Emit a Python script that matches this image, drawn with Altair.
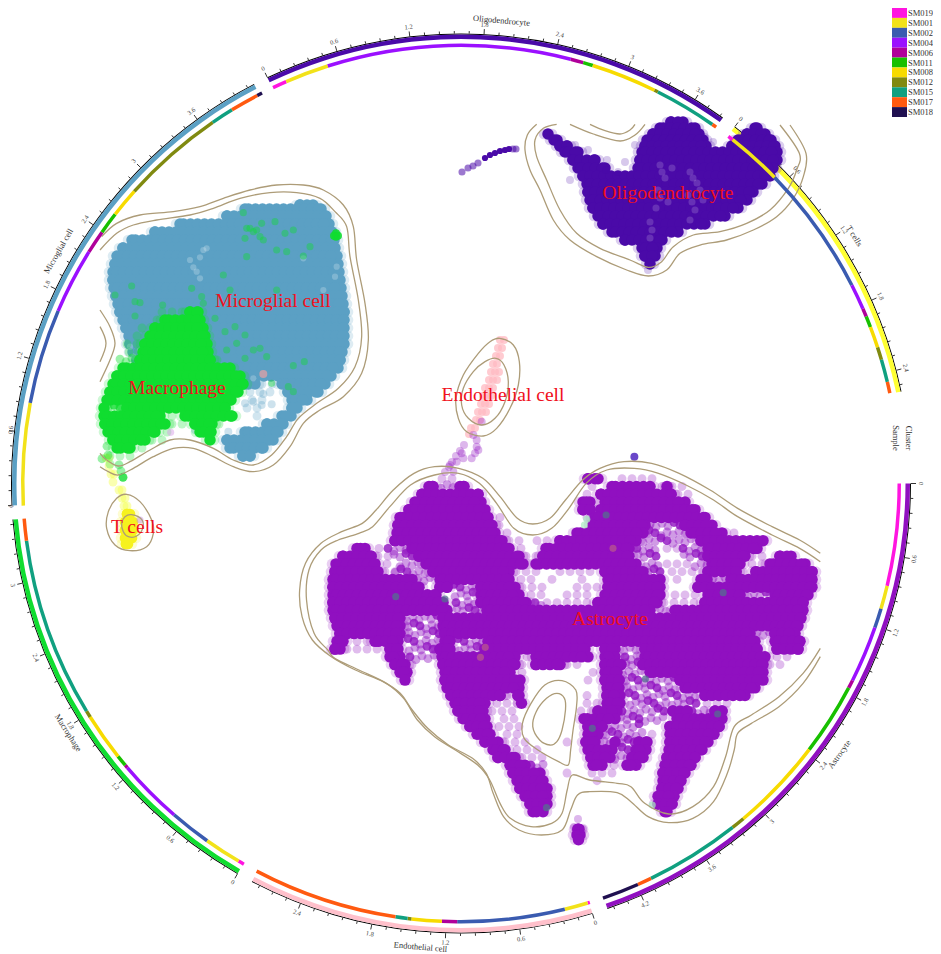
import math
import altair as alt
import numpy as np
import pandas as pd

alt.data_transformers.disable_max_rows()

FONT = "Liberation Serif"
CX, CY = 461, 483.5

SAMPLES = ["SM019", "SM001", "SM002", "SM004", "SM006", "SM011", "SM008", "SM012", "SM015", "SM017", "SM018"]
SAMPLE_COLORS = ["#FF14E0", "#F2E21A", "#3A5BB0", "#9B10FF", "#B0009A", "#18C000", "#F7DB00", "#808A10", "#10A080", "#FF5A10", "#201050"]
COLOR = dict(zip(SAMPLES, SAMPLE_COLORS))

CLUSTERS = ["Oligodendrocyte", "T cells", "Astrocyte", "Endothelial cell", "Macrophage", "Microglial cell"]
CLUSTER_COLORS = ["#4A0AA8", "#FFFF33", "#9010C0", "#FFC0CB", "#10DD30", "#5BA0C4"]
CLUSTER_START = [-25.5, 37.5, 90, 163, 209.8, 267.2]
CLUSTER_END = [35.6, 78.2, 161, 207.7, 265.4, 332.6]
CLUSTER_NAME_ANGLE = [5, 57.8, 125.6, 185, 237.6, 300]
CLUSTER_LABELS = [(668, 193), (137, 527), (610, 619), (503, 395), (177, 388), (273, 301)]
MAJOR_TICKS = ["0", "0.6", "1.2", "1.8", "2.4", "3", "3.6", "4.2"]
DEG_PER_UNIT = 15.8

OLIGO_SAMPLES = ["SM019", "SM001", "SM004", "SM006", "SM011", "SM008", "SM012", "SM015", "SM017"]
OLIGO_EDGES = [-25.4, -23.5, -17.7, 14.5, 16.2, 17.5, 26.2, 26.7, 35.0, 35.6]
T_SAMPLES = ["SM019", "SM001", "SM002", "SM004", "SM006", "SM011", "SM008", "SM012", "SM015", "SM017"]
T_EDGES = [37.6, 38.3, 45.7, 63.1, 66.5, 67.6, 69.1, 71.9, 73.6, 76.6, 78.1]
ASTRO_SAMPLES = SAMPLES
ASTRO_EDGES = [90, 103.5, 106.6, 109.2, 116.7, 117.8, 127.4, 139.9, 141.7, 154.3, 156.2, 161.1]
ENDO_SAMPLES = ["SM019", "SM001", "SM002", "SM006", "SM008", "SM012", "SM015", "SM017"]
ENDO_EDGES = [162.9, 163.2, 166.3, 180.5, 182.5, 186.5, 187, 188.6, 207.8]
MACRO_SAMPLES = ["SM019", "SM001", "SM002", "SM004", "SM006", "SM011", "SM008", "SM012", "SM015", "SM017"]
MACRO_EDGES = [209.7, 210.5, 215.4, 220.9, 229.6, 230, 231.5, 237.8, 238.7, 262.5, 265.4]
MICRO_SAMPLES = ["SM001", "SM002", "SM004", "SM006", "SM011", "SM008", "SM012", "SM015", "SM017", "SM018"]
MICRO_EDGES = [267.1, 280.6, 293.2, 301.9, 305, 307.9, 311.8, 325.5, 328.5, 332.3, 333]

# row : dense runs | mottled runs | scattered runs
ASTRO_ROWS = [
    "480: 583-603 | | 440-460 620-660", "488: 424-438 455-469 607-655 664-670 | 440-455 | 585-600 655-690",
    "496: 417-483 596-676 | | 585-591 676-690", "504: 410-486 578-595 600-690 | | ", "512: 404-490 578-595 596-700 | | ",
    "520: 395-493 590-710 | | 580-590 493-500", "528: 393-497 588-650 680-717 | 650-680 | 497-505",
    "536: 392-500 572-648 686-727 | 648-686 | 500-512 727-735", "544: 390-507 555-641 696-768 | 641-696 | 507-520 535-555",
    "552: 352-370 407-514 541-634 703-762 | 385-407 634-660 680-703 | 372-385 514-530 660-680",
    "560: 338-376 414-524 538-634 703-750 775-796 | 390-414 634-660 680-703 | 376-390 524-538 750-770",
    "568: 331-380 421-528 531-641 707-745 765-810 | 395-421 641-660 690-707 | 380-395 660-690 745-765",
    "576: 330-383 428-514 600-648 703-741 751-817 | 395-428 648-660 | 383-395 514-538 558-590 670-703 741-751",
    "584: 328-417 435-514 603-665 696-712 726-817 | 417-435 712-726 | 514-540 545-558 575-590 670-685",
    "592: 328-424 435-452 476-520 603-665 693-817 | 452-476 | 520-545 575-597",
    "600: 328-441 476-524 600-665 703-745 770-813 | 452-476 745-770 | 524-545 560-593 668-703",
    "608: 328-448 476-531 593-662 700-808 | 452-476 531-545 | 545-593 662-700",
    "616: 328-452 482-655 670-808 | 452-482 655-670 | ", "624: 330-405 438-806 | 407-438 | ", "632: 332-405 438-803 | 407-438 | ",
    "640: 335-405 440-755 770-800 | 407-440 755-770 | ", "648: 332-348 370-403 440-455 483-760 770-805 | 405-440 455-483 | 350-370",
    "656: 330-345 385-403 435-455 480-590 600-620 640-762 772-803 | 405-435 455-480 620-640 | 345-385",
    "664: 385-405 437-520 531-593 600-620 640-770 | 405-435 620-640 | 520-531 770-790",
    "672: 390-410 438-520 531-565 600-626 638-768 | 626-638 | 410-415 520-531 565-585 768-780",
    "680: 395-412 440-515 600-622 645-768 | 622-645 | 515-528 586-600",
    "688: 400-410 440-525 600-624 675-768 | 624-675 | 586-593", "696: 442-524 602-624 680-760 | 624-680 | 586-590",
    "704: 446-505 513-524 602-625 700-750 | 625-700 | 505-513 585-593",
    "712: 450-490 517-526 602-625 | 625-700 | 490-517 580-600 700-730",
    "720: 453-488 593-622 668-692 710-727 | 622-668 692-710 | 490-517 579-593",
    "728: 458-490 579-620 672-727 | 620-665 | 497-520", "736: 465-492 583-607 665-724 | 607-640 | 497-528",
    "744: 472-495 583-603 665-719 | 603-645 | 500-525 645-655", "752: 480-503 581-600 610-620 634-652 665-713 | 600-634 | 503-530 565-570",
    "760: 488-510 583-617 631-651 664-707 | 617-631 | 510-538", "768: 493-520 586-615 627-648 662-700 | 615-627 | 520-545",
    "776: 505-530 588-607 622-641 660-696 | 530-545 | 607-622", "784: 508-545 658-690 | | 565-576 590-620",
    "792: 512-548 658-686 | | 565-570 590-600", "800: 515-552 657-683 | | ", "808: 520-552 653-679 | | ", "816: 525-552 653-677 | | ",
    "824: 528-548 660-672 | | ", "842: 573-584 | | ", "848: 572-585 | | ", "853: 574-583 | | ",
]
ASTRO_THIN_PTS = [(578, 819), (583, 829), (574, 827), (464, 445), (460, 451), (456, 456), (452, 462), (449, 467), (445, 472)]
GREY_PTS = [(307, 470), (450, 477), (918, 225), (1258, 458), (1032, 717), (878, 865), (1242, 822), (745, 1103)]
ROSE_PTS = [(938, 325), (567, 622), (553, 652)]
MINT_PTS = [(855, 255), (1052, 1095), (862, 238)]

MICRO_ROWS = [
    "205: 295-318 | | ", "209: 240-326 | | ", "216: 222-331 | | ", "224: 175-334 | | ", "232: 150-337 | | ", "240: 127-339 | | ", "248: 118-340 | | ",
    "256: 112-342 | | ", "264: 110-343 | | ", "272: 108-344 | | ", "280: 108-345 | | ", "288: 109-346 | | ", "296: 111-347 | | ", "304: 113-348 | | ",
    "312: 115-349 | | ", "320: 118-349 | | ", "328: 121-349 | | ", "336: 124-349 | | ", "344: 125-349 | | ", "352: 128-347 | | ", "360: 132-345 | | ",
    "368: 135-343 | | ", "376: 140-336 | | ", "384: 277-330 240-260 | | 255-277", "392: 283-323 | | 248-275", "400: 287-312 | | 245-270",
    "408: 287-302 | | 245-265", "416: 277-296 | | 250-262", "424: 262-288 | | ", "432: 240-283 | | ", "440: 222-278 | | ", "448: 225-268 | | ", "456: 238-255 | | ",
]
MICRO_WHITE_SPOTS = [(350, 235), (330, 262), (300, 270), (310, 292), (330, 325), (640, 265), (700, 360), (740, 290), (735, 320),
                     (120, 530), (150, 540), (130, 560), (70, 700), (100, 690), (240, 745), (265, 740), (490, 625), (340, 240), (320, 305)]
MACRO_ROWS = [
    "312: 185-203 | | 160-185", "320: 160-205 | | 150-160", "328: 150-208 | | 140-150", "336: 145-210 | | 130-145", "344: 140-212 | | 125-140",
    "352: 138-213 | | 122-138", "360: 135-215 | 120-135 | 215-225", "368: 118-235 | | ", "376: 112-245 | | ", "384: 108-248 | | ", "392: 105-243 | | ",
    "400: 102-236 | | ", "408: 100-108 122-230 | 108-122 | ", "416: 99-165 180-237 | | 165-180", "424: 100-170 190-217 | | 170-190 217-228",
    "432: 103-160 195-216 | | 160-170", "440: 108-150 205-215 | | 150-165", "448: 112-135 | 102-107 | 135-145 107-112",
    "456: | 102-108 | 108-135", "464: | 118-124 | 103-112", "472: | 119-125 | ", "480: | 120-125 | ",
]
MACRO_SPOTS = [(460, 128), (470, 175), (490, 185), (520, 210), (555, 155), (515, 160), (610, 180), (585, 190), (465, 205), (660, 230), (560, 240),
               (590, 245), (640, 258), (470, 260), (400, 315), (125, 348), (75, 375), (135, 395), (150, 398), (218, 405), (135, 438), (305, 355),
               (335, 380), (420, 360), (560, 360), (340, 400), (375, 445), (435, 470), (405, 485), (465, 495), (440, 520), (410, 540), (465, 565),
               (490, 540), (530, 560), (510, 535), (610, 587), (643, 575), (545, 640), (595, 650), (610, 665), (500, 180), (510, 200), (480, 175)]
MACRO_BLOB = [(738, 190), (738, 200), (732, 197), (744, 197)]
MICRO_STRAYS = [(315, 780), (415, 785), (465, 700), (490, 695), (520, 672), (515, 705), (545, 703)]

TCELL_ROWS_THIN = ["458: 103-112", "466: 106-114", "474: 108-117", "482: 110-118", "490: 116-125", "498: 119-128", "506: 121-132"]
TCELL_ROWS = ["514: 122-135 | | ", "522: 120-138 | | ", "530: 120-138 | | ", "538: 120-137 | | ", "544: 121-133 | | "]

OLIGO_ROWS = [
    "122: 666-688 | | ", "128: 655-700 750-762 | | ", "134: 543-553 648-704 742-770 | | ", "140: 549-562 642-708 733-776 | | ", "146: 555-572 640-711 727-780 | | ", "152: 560-583 637-782 | | ",
    "160: 568-600 635-782 | | ", "168: 573-610 633-778 | | ", "176: 578-775 | | ", "184: 582-767 | | ", "192: 583-758 | | ", "200: 585-752 | | ",
    "208: 588-743 | | ", "216: 593-730 | | ", "224: 598-710 | | ", "232: 607-683 | | ", "240: 620-667 | | ", "248: 637-662 | | ", "256: 640-660 | | ", "264: 645-655 | | ",
]
OLIGO_WHITE_SPOTS = [(660, 165), (665, 178), (658, 190), (668, 202), (656, 208), (690, 172), (697, 183), (688, 195), (695, 210), (690, 220),
                     (652, 230), (650, 238), (703, 200), (672, 168), (662, 172), (693, 178), (692, 202), (660, 198), (650, 222), (700, 190)]
OLIGO_THIN_PTS = [(635, 145), (607, 160), (625, 162), (588, 150), (575, 145), (713, 142), (705, 137), (648, 270), (570, 180), (606, 170), (618, 172)]
OLIGO_TAIL_THIN = [(462, 172), (468, 168), (473, 166), (478, 163), (513, 149), (516, 149)]
OLIGO_TAIL = [(485, 158), (490, 155), (495, 153), (500, 151), (505, 150), (509, 149)]
ENDO_ROWS = ["340: 497-508", "348: 495-507", "356: 493-505", "364: 490-503", "372: 488-502", "380: 486-500", "388: 482-497", "396: 480-495",
             "404: 478-494", "412: 475-490", "420: 473-486", "428: 468-480", "434: 466-474", "443: 462-467"]
ENDO_PURPLE = [(155, 290), (130, 330), (140, 345), (140, 365), (135, 385), (95, 385), (100, 400), (125, 400), (80, 410), (60, 420), (70, 440), (145, 375)]

ASTRO_OUTER = [(1540, 340), (1480, 300), (1400, 260), (1300, 205), (1220, 150), (1130, 100), (1050, 70), (970, 65), (900, 85), (850, 120), (800, 180), (755, 235), (705, 252), (660, 235), (610, 170), (560, 115), (490, 85), (420, 80), (360, 100), (300, 150), (250, 210), (210, 250), (150, 275), (90, 310), (45, 370), (28, 450), (35, 530), (65, 600), (120, 650), (190, 690), (270, 725), (320, 760), (355, 810), (400, 865), (460, 915), (530, 955), (570, 1000), (590, 1060), (620, 1130), (665, 1170), (730, 1185), (790, 1170), (815, 1110), (835, 1065), (870, 1055), (950, 1058), (990, 1085), (1040, 1130), (1100, 1148), (1170, 1135), (1230, 1085), (1270, 1000), (1290, 930), (1300, 880), (1340, 850), (1420, 800), (1490, 730), (1540, 650)]
ASTRO_INNER = [(1540, 365), (1480, 325), (1400, 285), (1300, 230), (1230, 180), (1150, 135), (1070, 100), (1000, 85), (920, 90), (860, 130), (810, 205), (760, 265), (705, 285), (650, 265), (600, 190), (550, 130), (490, 100), (420, 105), (350, 135), (290, 200), (240, 260), (200, 280), (140, 300), (90, 330), (55, 390), (48, 480), (70, 580), (110, 630), (130, 655), (200, 690), (280, 730), (330, 775), (370, 840), (420, 890), (480, 930), (545, 975), (580, 1020), (610, 1090), (640, 1135), (700, 1160), (760, 1150), (790, 1120), (805, 1050), (820, 1005), (870, 1020), (950, 1030), (990, 1040), (1030, 1090), (1100, 1122), (1170, 1100), (1230, 1040), (1265, 950), (1290, 860), (1340, 825), (1420, 770), (1490, 700), (1540, 625)]
HOLE_OUTER = [(790, 722), (830, 750), (832, 800), (822, 870), (815, 930), (808, 975), (780, 965), (720, 930), (680, 895), (675, 850), (700, 790), (740, 735)]
HOLE_INNER = [(775, 760), (797, 775), (800, 810), (790, 870), (775, 905), (755, 915), (725, 900), (705, 860), (715, 815), (745, 775)]
OLIGO_OUTER = [(290, 43), (262, 75), (255, 120), (270, 180), (300, 240), (340, 330), (390, 390), (470, 440), (560, 480), (625, 498), (680, 480), (720, 430), (780, 405), (860, 390), (940, 360), (1010, 320), (1060, 265), (1090, 200), (1098, 130), (1050, 45)]
OLIGO_INNER = [(350, 43), (310, 55), (285, 90), (290, 140), (320, 210), (360, 300), (410, 370), (480, 415), (570, 450), (625, 472), (665, 455), (700, 410), (760, 375), (840, 365), (920, 340), (990, 300), (1045, 235), (1070, 180), (1078, 130), (1020, 45)]
OLIGO_DIP1 = [(450, 43), (495, 62), (540, 72), (570, 60), (585, 43)]
OLIGO_DIP2 = [(390, 43), (460, 72), (540, 93), (585, 75), (615, 43)]
MICRO_OUTER = [(35, 200), (80, 160), (150, 135), (250, 125), (330, 110), (400, 85), (480, 60), (560, 45), (640, 45), (700, 60), (760, 105), (790, 170), (800, 270), (825, 400), (835, 510), (815, 610), (760, 680), (690, 720), (640, 760), (600, 830), (550, 885), (490, 905), (430, 890), (370, 860), (310, 835), (250, 835), (190, 860), (130, 895), (85, 915), (55, 905), (30, 890)]
MICRO_INNER = [(30, 240), (80, 190), (130, 165), (200, 150), (300, 135), (370, 115), (450, 85), (540, 68), (620, 68), (690, 85), (735, 125), (770, 170), (780, 260), (805, 390), (815, 500), (795, 590), (745, 655), (680, 700), (625, 745), (590, 800), (545, 855), (490, 885), (430, 870), (370, 835), (300, 810), (240, 810), (180, 840), (120, 875), (85, 888), (50, 870), (30, 850)]
MICRO_CUT1 = [(30, 420), (60, 470), (75, 520), (60, 570), (30, 635)]
MICRO_CUT2 = [(30, 470), (48, 520), (30, 575)]
TCELL_OUTER = [(110, 973), (150, 995), (185, 1050), (190, 1090), (170, 1130), (120, 1142), (75, 1125), (50, 1075), (55, 1025), (80, 985)]
TCELL_INNER = [(125, 1034), (155, 1048), (158, 1075), (140, 1098), (115, 1100), (100, 1085), (95, 1060), (105, 1040)]
ENDO_OUTER = [(210, 40), (250, 60), (268, 110), (265, 180), (240, 250), (200, 310), (160, 333), (110, 320), (85, 280), (78, 220), (100, 150), (145, 85), (180, 50)]
ENDO_INNER = [(198, 100), (222, 120), (235, 170), (225, 230), (195, 280), (155, 300), (115, 280), (95, 240), (100, 190), (130, 140), (165, 110)]


def astro_xy(p):
    return 290 + p[0] / 2.904, 440 + p[1] / 3


def micro_xy(p):
    return 90 + p[0] / 3, 170 + p[1] / 3


def oligo_xy(p):
    return 440 + p[0] / 3, 110 + p[1] / 3


def endo_xy(p):
    return 430 + p[0] / 3, 325 + p[1] / 3


def runs(text):
    return [tuple(float(v) for v in r.split("-")) for r in text.split()]


points = []


def add(x, y, color, r, op):
    points.append({"x": x, "y": y, "c": color, "s": math.pi * r * r, "o": op})


def add_rows(rows, color, r=6.5, fixy=False):
    parsed = []
    for k, row in enumerate(rows):
        head, body = row.split(":")
        dense, medium, sparse = (body.split("|") + ["", ""])[:3]
        y = float(head)
        if fixy:
            y = 440 + (y - 440) * 0.968
        parsed.append((k, y, runs(dense), runs(medium), runs(sparse)))
    for k, y, dense, medium, sparse in parsed:
        for a, b in sparse:
            for x in np.arange(a + 2 + (k % 2) * 5, b + 0.1, 10):
                add(float(x), y, color, 5, 0.28)
        for a, b in medium:
            for i, x in enumerate(np.arange(a + (k * 7) % 6, b + 0.1, 6)):
                shade = (k * 5 + i * 3) % 7
                yy = y + (shade - 3) * 0.9
                add(float(x), yy, color, 5, 0.8 if shade in (0, 3) else 0.42)
        for a, b in dense:
            add(a + 1, y, color, 6, 0.2)
            add(b - 1, y, color, 6, 0.2)
    for k, y, dense, medium, sparse in parsed:
        for a, b in dense:
            if b - a <= 10:
                add((a + b) / 2, y, color, r, 1)
            else:
                add(a + 5, y, color, r, 1)
                add(b - 5, y, color, r, 1)
                for x in np.arange(a + 5 + (k % 2) * 3.5, b - 4.9, 7):
                    add(float(x), y, color, r, 1)


ASTRO_C, OLIGO_C, MICRO_C, MACRO_C, ENDO_C = "#9010C0", "#4A0AA8", "#5BA0C4", "#10DD30", "#FFB9C2"

add_rows(MICRO_ROWS, MICRO_C)
for p in MICRO_WHITE_SPOTS:
    add(*micro_xy(p), "#FFFFFF", 3.5, 0.22)
for p in MICRO_STRAYS:
    add(*micro_xy(p), MICRO_C, 4.5, 0.3)
for p in MACRO_SPOTS:
    add(*micro_xy(p), MACRO_C, 4, 0.4)
for p in MACRO_BLOB:
    add(*micro_xy(p), MACRO_C, 4.5, 0.9)
for row in TCELL_ROWS_THIN:
    head, body = row.split(":")
    for a, b in runs(body):
        for x in np.arange(a + 3, b - 2, 3):
            add(float(x), float(head), "#F4FF50", 5, 0.45)
add_rows(MACRO_ROWS, MACRO_C)
add(*micro_xy((520, 612)), "#D8A0A8", 4.5, 0.8)
add(*micro_xy((242, 787)), "#D8A0E8", 4, 0.5)
add_rows(TCELL_ROWS, "#F6F21E", r=6)
add(*micro_xy((150, 1050)), "#C890E8", 4, 0.5)
add_rows(OLIGO_ROWS, OLIGO_C)
for p in OLIGO_WHITE_SPOTS:
    add(p[0], p[1], "#FFFFFF", 4, 0.16)
for p in OLIGO_THIN_PTS:
    add(p[0], p[1], OLIGO_C, 4.5, 0.22)
for p in OLIGO_TAIL_THIN:
    add(p[0], p[1], OLIGO_C, 4, 0.55)
for p in OLIGO_TAIL:
    add(p[0], p[1], OLIGO_C, 3.5, 1)
for row in ENDO_ROWS:
    head, body = row.split(":")
    for a, b in runs(body):
        for x in np.arange(a + 3, b - 2, 4):
            add(float(x), float(head), ENDO_C, 4.5, 0.75)
for p in ENDO_PURPLE:
    add(*endo_xy(p), ASTRO_C, 4.5, 0.32)
add_rows(ASTRO_ROWS, ASTRO_C, fixy=True)
for p in ASTRO_THIN_PTS:
    add(p[0], p[1], ASTRO_C, 4.5, 0.3)
for p in GREY_PTS:
    add(*astro_xy(p), "#556E90", 4, 0.75)
for p in ROSE_PTS:
    add(*astro_xy(p), "#B8558F", 4, 0.75)
for p in MINT_PTS:
    add(*astro_xy(p), "#A8EEC0", 4, 0.7)
add(*astro_xy((1000, 50)), "#5028C0", 4.5, 0.85)
points_df = pd.DataFrame(points)

open_paths = [(ASTRO_OUTER, astro_xy), (ASTRO_INNER, astro_xy), (OLIGO_OUTER, oligo_xy), (OLIGO_INNER, oligo_xy), (OLIGO_DIP1, oligo_xy),
              (OLIGO_DIP2, oligo_xy), (MICRO_OUTER, micro_xy), (MICRO_INNER, micro_xy), (MICRO_CUT1, micro_xy), (MICRO_CUT2, micro_xy)]
closed_paths = [(HOLE_OUTER, astro_xy), (HOLE_INNER, astro_xy), (TCELL_OUTER, micro_xy), (TCELL_INNER, micro_xy), (ENDO_OUTER, endo_xy), (ENDO_INNER, endo_xy)]


def paths_df(paths):
    rows = []
    for pid, (pts, fn) in enumerate(paths):
        for i, p in enumerate(pts):
            x, y = fn(p)
            rows.append({"x": x, "y": y, "pid": pid, "i": i})
    return pd.DataFrame(rows)


def pol(deg, r):
    t = math.radians(deg)
    return CX + r * math.sin(t), CY - r * math.cos(t)


def arcs_df(starts, ends, colors, r0, r1):
    return pd.DataFrame({"cx": CX, "cy": CY, "a": [math.radians(a) for a in starts], "b": [math.radians(b) for b in ends],
                         "c": colors, "r0": r0, "r1": r1})


outer_df = arcs_df(CLUSTER_START, CLUSTER_END, CLUSTER_COLORS, 444.5, 449)
axis_df = arcs_df(CLUSTER_START, CLUSTER_END, ["#000000"] * 6, 449, 450)
s_starts, s_ends, s_cols = [], [], []
for names, edges in [(OLIGO_SAMPLES, OLIGO_EDGES), (T_SAMPLES, T_EDGES), (ASTRO_SAMPLES, ASTRO_EDGES), (ENDO_SAMPLES, ENDO_EDGES),
                     (MACRO_SAMPLES, MACRO_EDGES), (MICRO_SAMPLES, MICRO_EDGES)]:
    for j, nm in enumerate(names):
        s_starts.append(edges[j])
        s_ends.append(edges[j + 1])
        s_cols.append(COLOR[nm])
inner_df = arcs_df(s_starts, s_ends, s_cols, 436.5, 440)


def tangent(a):
    a = a % 360
    rot = a - 180 if 90 < a < 270 else a
    return rot % 360


tick_rows, tick_labels = [], []
for st, en in zip(CLUSTER_START, CLUSTER_END):
    n = int((en - st) / DEG_PER_UNIT / 0.12) + 1
    for k in range(n):
        a = st + k * 0.12 * DEG_PER_UNIT
        major = k % 5 == 0
        x, y = pol(a, 450)
        x2, y2 = pol(a, 455 if major else 452.5)
        tick_rows.append({"x": x, "y": y, "x2": x2, "y2": y2})
        if major:
            lx, ly = pol(a, 459.5)
            tick_labels.append({"x": max(lx, 11), "y": ly, "t": MAJOR_TICKS[k // 5], "rot": tangent(a)})
ticks_df = pd.DataFrame(tick_rows)
tick_labels_df = pd.DataFrame(tick_labels)

names_rows = []
for nm, a in zip(CLUSTERS, CLUSTER_NAME_ANGLE):
    x, y = pol(a, 465)
    names_rows.append({"x": x, "y": y, "t": nm, "rot": tangent(a)})
names_rows.append({"x": 909, "y": 438, "t": "Cluster", "rot": 90})
names_rows.append({"x": 896, "y": 438, "t": "Sample", "rot": 90})
names_df = pd.DataFrame(names_rows)
labels_df = pd.DataFrame({"x": [p[0] for p in CLUSTER_LABELS], "y": [p[1] for p in CLUSTER_LABELS], "t": CLUSTERS})

legend_df = pd.DataFrame({"t": SAMPLES, "c": SAMPLE_COLORS, "rank": range(len(SAMPLES))})
legend_df["y"] = 8 + legend_df["rank"] * 9.91
legend_df["y2"] = legend_df["y"] + 9.91
legend_df["ym"] = legend_df["y"] + 5
legend_df["x"] = 892
legend_df["x2"] = 907
legend_df["xt"] = 908

X_SCALE = alt.Scale(domain=[8, 933], nice=False, zero=False)
Y_SCALE = alt.Scale(domain=[954, 8], nice=False, zero=False)


def X(f):
    return alt.X(f, type="quantitative", scale=X_SCALE, axis=None)


def Y(f):
    return alt.Y(f, type="quantitative", scale=Y_SCALE, axis=None)


def arcs(df):
    return alt.Chart(df).mark_arc(stroke=None).encode(
        x=X("cx"), y=Y("cy"),
        theta=alt.Theta("a:Q", scale=None), theta2=alt.Theta2("b:Q"),
        radius=alt.Radius("r1:Q", scale=None), radius2=alt.Radius2("r0:Q"),
        color=alt.Color("c:N", scale=None),
    )


points_layer = alt.Chart(points_df).mark_circle(stroke=None).encode(
    x=X("x"), y=Y("y"), color=alt.Color("c:N", scale=None),
    size=alt.Size("s:Q", scale=None), opacity=alt.Opacity("o:Q", scale=None),
)
CONTOUR = "#AD9C78"
open_layer = alt.Chart(paths_df(open_paths)).mark_line(interpolate="cardinal", color=CONTOUR, strokeWidth=1.3).encode(
    x=X("x"), y=Y("y"), detail="pid:N", order="i:Q")
closed_layer = alt.Chart(paths_df(closed_paths)).mark_line(interpolate="cardinal-closed", color=CONTOUR, strokeWidth=1.3).encode(
    x=X("x"), y=Y("y"), detail="pid:N", order="i:Q")
tick_layer = alt.Chart(ticks_df).mark_rule(color="#000000", strokeWidth=0.8).encode(
    x=X("x"), y=Y("y"), x2="x2:Q", y2="y2:Q")
tick_text = alt.Chart(tick_labels_df).mark_text(font=FONT, fontSize=6.5, color="#444444", align="center", baseline="middle").encode(
    x=X("x"), y=Y("y"), text="t:N", angle=alt.Angle("rot:Q", scale=None))
name_text = alt.Chart(names_df).mark_text(font=FONT, fontSize=8.5, color="#333333", align="center", baseline="middle").encode(
    x=X("x"), y=Y("y"), text="t:N", angle=alt.Angle("rot:Q", scale=None))
label_text = alt.Chart(labels_df).mark_text(font=FONT, fontSize=19.5, color="#F01020", align="center", baseline="middle").encode(
    x=X("x"), y=Y("y"), text="t:N")
legend_rect = alt.Chart(legend_df).mark_rect(stroke=None).encode(
    x=X("x"), x2="x2:Q", y=Y("y"), y2="y2:Q", color=alt.Color("c:N", scale=None))
legend_text = alt.Chart(legend_df).mark_text(font=FONT, fontSize=8.5, color="#333333", align="left", baseline="middle").encode(
    x=X("xt"), y=Y("ym"), text="t:N")

chart = alt.layer(
    arcs(axis_df), tick_layer, arcs(outer_df), tick_text, name_text,
    points_layer, open_layer, closed_layer, arcs(inner_df), label_text, legend_rect, legend_text,
).properties(width=925, height=946, padding=0, background="#FFFFFF", autosize=alt.AutoSizeParams(type="none")).configure_view(stroke=None, strokeWidth=0)

chart.save("out.html", embed_options={"renderer": "svg", "actions": False})
